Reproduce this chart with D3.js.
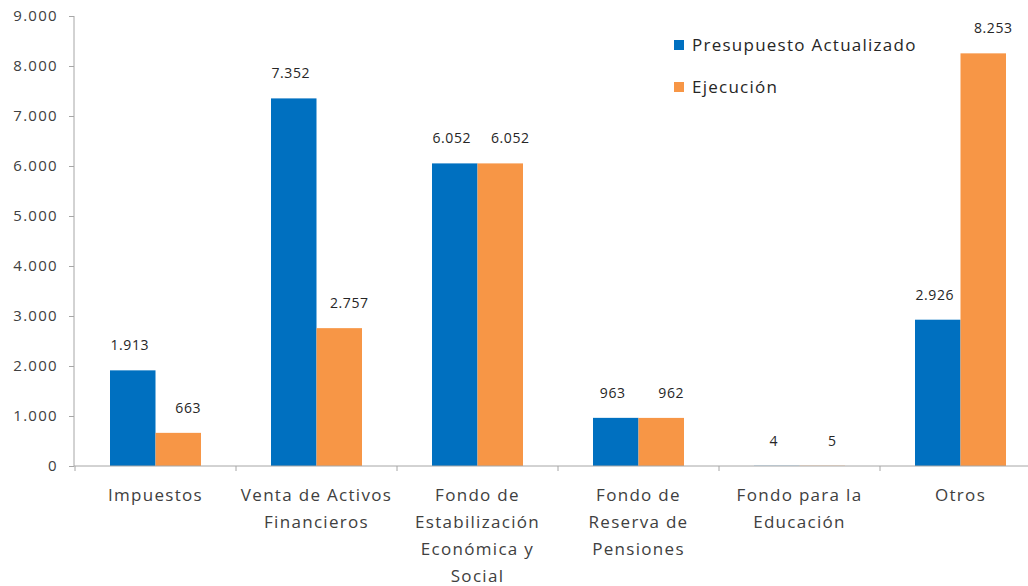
<!DOCTYPE html>
<html lang="es">
<head>
<meta charset="UTF-8">
<title>Presupuesto vs Ejecución</title>
<script src="https://cdnjs.cloudflare.com/ajax/libs/d3/7.9.0/d3.min.js"></script>
<style>
  body{margin:0;background:#fff;font-family:"Open Sans","Noto Sans",sans-serif;color:#404040;}
  svg{display:block}
  .axis path,.axis line{stroke:#a6a6a6;}
  .axis text{fill:#404040;}
</style>
</head>
<body>
<div id="chart"></div>
<script>
/* ---------- data ---------- */
const categories = [
  ["Impuestos"],
  ["Venta de Activos", "Financieros"],
  ["Fondo de", "Estabilización", "Económica y", "Social"],
  ["Fondo de", "Reserva de", "Pensiones"],
  ["Fondo para la", "Educación"],
  ["Otros"]
];
const seriesNames = ["Presupuesto Actualizado", "Ejecución"];
const presupuesto = [1913, 7352, 6052, 963, 4, 2926];
const ejecucion   = [663, 2757, 6052, 962, 5, 8253];
const yTicks = [0, 1000, 2000, 3000, 4000, 5000, 6000, 7000, 8000, 9000];
const colors = ["#0070c0", "#f79646"];

/* ---------- layout ---------- */
const W = 1028, H = 586;
const x0 = 75, x1 = 1041, yTop = 16, yBot = 466;
const labelDx = [-3, 10];   // data labels sit a little off-centre, like the original

const es = d3.formatLocale({decimal:",", thousands:".", grouping:[3], currency:["",""]});
const fmt = es.format(",d");

const svg = d3.select("#chart").append("svg")
    .attr("width", W).attr("height", H)
    .style("font-family", "'Open Sans', sans-serif");

const keys = categories.map((c, i) => i);
const x = d3.scaleBand().domain(keys).range([x0, x1]).paddingInner(0).paddingOuter(0);
const inner = d3.scaleBand().domain([0, 1]).range([35, x.bandwidth() - 35]);
const y = d3.scaleLinear().domain([0, 9000]).range([yBot, yTop]);

// y axis
const yAxis = svg.append("g").attr("class", "axis")
    .attr("transform", `translate(${x0 - 1},0)`)
    .call(d3.axisLeft(y).tickValues(yTicks).tickSize(5).tickPadding(11).tickFormat(fmt));
yAxis.selectAll("text")
    .style("font-size", "15px")
    .style("letter-spacing", "1.3px")
    .style("font-family", "'Open Sans', sans-serif");
yAxis.select(".domain").attr("d", `M0,${yTop}V${yBot}`);

// bars
const series = [presupuesto, ejecucion];
series.forEach((vals, s) => {
  svg.append("g").selectAll("rect")
    .data(vals).enter().append("rect")
      .attr("x", (d, i) => x(i) + inner(s))
      .attr("y", d => y(d))
      .attr("width", inner.bandwidth())
      .attr("height", d => yBot - y(d))
      .attr("fill", colors[s]);

  svg.append("g").selectAll("text")
    .data(vals).enter().append("text")
      .attr("x", (d, i) => x(i) + inner(s) + inner.bandwidth() / 2 + labelDx[s])
      .attr("y", d => y(d) - 20)
      .attr("text-anchor", "middle")
      .style("font-size", "14px")
      .style("letter-spacing", "0.6px")
      .attr("fill", "#262626")
      .text(d => fmt(d));
});

// x axis
const xAxis = svg.append("g").attr("class", "axis")
    .attr("transform", `translate(0,${yBot})`);
xAxis.append("line").attr("x1", x0 - 1).attr("x2", x1).attr("y1", 0).attr("y2", 0);
xAxis.selectAll(".tk").data(d3.range(categories.length + 1)).enter().append("line")
    .attr("x1", i => x0 + i * x.bandwidth()).attr("x2", i => x0 + i * x.bandwidth())
    .attr("y1", 0).attr("y2", 5);

xAxis.selectAll(".lbl").data(categories).enter().append("text")
    .attr("text-anchor", "middle")
    .attr("fill", "#262626")
    .style("font-size", "17px")
    .style("letter-spacing", "1.3px")
    .each(function(lines, i) {
      d3.select(this).selectAll("tspan").data(lines).enter().append("tspan")
        .attr("x", x(i) + x.bandwidth() / 2)
        .attr("y", (d, j) => 35 + j * 27)
        .text(d => d);
    });

// legend
const legend = svg.append("g").attr("transform", "translate(674,40)");
seriesNames.forEach((n, i) => {
  legend.append("rect").attr("x", 0).attr("y", i * 42).attr("width", 10).attr("height", 10).attr("fill", colors[i]);
  legend.append("text").attr("x", 18).attr("y", i * 42 + 11)
    .style("font-size", "17px").style("letter-spacing", "1.25px")
    .attr("fill", "#262626").text(n);
});
</script>
</body>
</html>
